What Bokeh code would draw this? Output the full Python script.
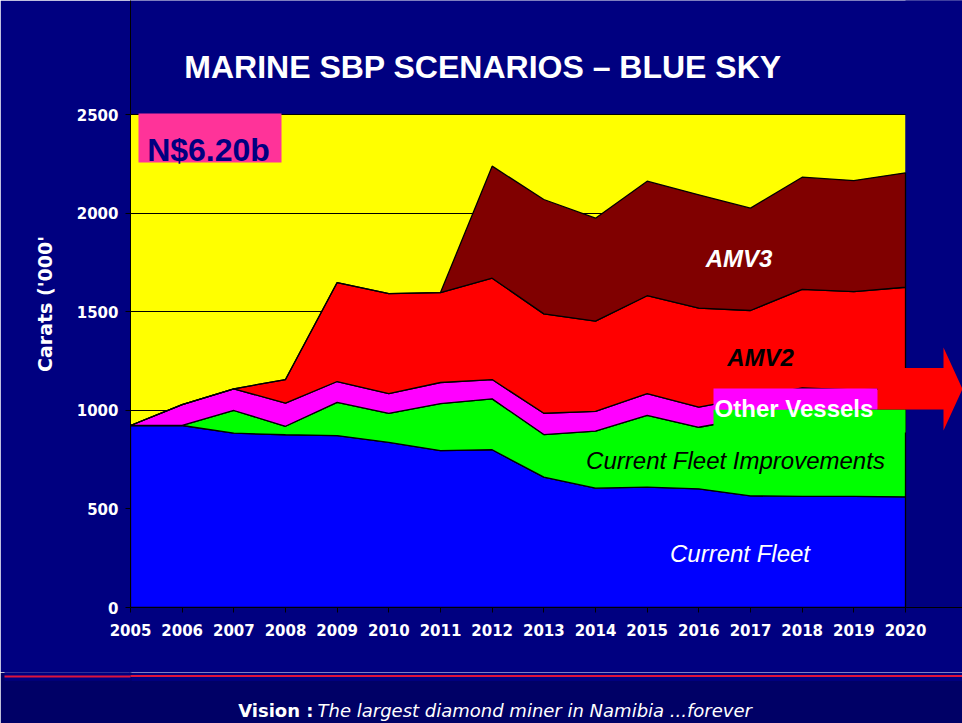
import numpy as np
from bokeh.plotting import figure
from bokeh.layouts import column
from bokeh.models import Range1d, FixedTicker, Label, BoxAnnotation, PolyAnnotation, LinearAxis
from bokeh.embed import file_html
from bokeh.resources import INLINE

# ---------------- data ----------------
YEARS = list(range(2005, 2021))
YEAR_LABELS = [str(y) for y in YEARS]
CURRENT_FLEET = [923, 923, 884, 876, 872, 837, 796, 800, 661, 605, 610, 602, 566, 564, 564, 561]
FLEET_IMPROVEMENTS = [0, 0, 115, 43, 168, 147, 238, 258, 216, 289, 364, 312, 396, 452, 439, 445]
OTHER_VESSELS = [0, 106, 110, 117, 106, 101, 107, 98, 108, 101, 110, 102, 103, 98, 101, 104]
AMV2 = [0, 0, 0, 120, 502, 507, 456, 514, 504, 457, 497, 502, 441, 499, 498, 514]
AMV3 = [0, 0, 0, 0, 0, 0, 0, 568, 580, 522, 581, 575, 519, 569, 563, 580]
SERIES_NAMES = ["Current Fleet", "Current Fleet Improvements", "Other Vessels", "AMV2", "AMV3"]
SERIES_COLORS = ["#0000FF", "#00FF00", "#FF00FF", "#FF0000", "#800000"]
Y_TICKS = [0, 500, 1000, 1500, 2000, 2500]
Y_MAX = 2500
TITLE = "MARINE SBP SCENARIOS \u2013 BLUE SKY"
Y_LABEL = "Carats ('000'"
VALUE_TAG = "N$6.20b"
VISION_HEAD = "Vision :"
VISION_TEXT = "The largest diamond miner in Namibia ...forever"

NAVY = "#000080"
DARK = "#000066"
BLACK = "#000000"
WHITE = "#FFFFFF"
RULE_RED = "#E0143C"

# ---------------- geometry (page pixels) ----------------
W, H = 962, 723
MAIN_H = 672                     # chart figure height, footer below
PLOT_L, PLOT_R, PLOT_T, PLOT_B = 130, 905, 114, 607

px_per_year = (PLOT_R - PLOT_L) / (YEARS[-1] - YEARS[0])
px_per_unit = (PLOT_B - PLOT_T) / Y_MAX
x_end = YEARS[0] + (W - PLOT_L) / px_per_year
y_end = Y_MAX + PLOT_T / px_per_unit

p = figure(width=W, height=MAIN_H, output_backend="svg", toolbar_location=None, title=None,
           x_range=Range1d(YEARS[0], x_end), y_range=Range1d(0, y_end),
           min_border_left=PLOT_L, min_border_right=0, min_border_top=0,
           min_border_bottom=MAIN_H - PLOT_B)
p.border_fill_color = NAVY
p.background_fill_color = NAVY
p.outline_line_color = None

# yellow plot area, beneath the grid
p.add_layout(BoxAnnotation(left=YEARS[0], right=YEARS[-1], bottom=0, top=Y_MAX,
                           fill_color="#FFFF00", fill_alpha=1, line_color=None, level="image"))

p.xgrid.grid_line_color = None
p.ygrid.ticker = FixedTicker(ticks=Y_TICKS)
p.ygrid.grid_line_color = "black"
p.ygrid.grid_line_width = 1

# navy right of the plot area hides the grid-line ends
p.add_layout(BoxAnnotation(left=YEARS[-1], left_units="data",
                           right=3000, right_units="screen",
                           top=3000, top_units="screen",
                           bottom=-50, bottom_units="screen",
                           fill_color=NAVY, fill_alpha=1, line_color=None, level="underlay"))

# stacked areas
series = [CURRENT_FLEET, FLEET_IMPROVEMENTS, OTHER_VESSELS, AMV2, AMV3]
base = np.zeros(len(YEARS))
xs, ys = [], []
for s in series:
    top = base + np.array(s, dtype=float)
    xs.append(YEARS + YEARS[::-1])
    ys.append(list(top) + list(base[::-1]))
    base = top
p.patches(xs, ys, fill_color=SERIES_COLORS, line_color="black", line_width=1.3)

# axes
for ax in (p.xaxis, p.yaxis):
    ax.axis_line_color = "black"
    ax.axis_line_width = 1
    ax.major_tick_line_color = "black"
    ax.major_tick_out = 5
    ax.major_tick_in = 0
    ax.minor_tick_line_color = None
    ax.major_label_text_color = WHITE
    ax.major_label_text_font = "DejaVu Sans"
    ax.major_label_text_font_style = "bold"
    ax.major_label_text_font_size = "15px"

p.xaxis.ticker = FixedTicker(ticks=YEARS)
p.xaxis.bounds = (YEARS[0], x_end)
p.xaxis.major_label_overrides = {y: l for y, l in zip(YEARS, YEAR_LABELS)}
p.xaxis.major_label_standoff = 11
p.yaxis.ticker = FixedTicker(ticks=Y_TICKS)
p.yaxis.bounds = (0, y_end)
p.yaxis.major_label_overrides = {t: str(t) for t in Y_TICKS}
p.yaxis.major_label_standoff = 7
p.yaxis.axis_label = Y_LABEL
p.yaxis.axis_label_text_color = WHITE
p.yaxis.axis_label_text_font = "DejaVu Sans"
p.yaxis.axis_label_text_font_style = "bold"
p.yaxis.axis_label_text_font_size = "19px"
p.yaxis.axis_label_standoff = 18


# page pixels -> frame screen units
def sx(v):
    return v - PLOT_L


def sy(v):
    return PLOT_B - v


def srect(l, r, t, b, color):
    p.add_layout(BoxAnnotation(left=sx(l), right=sx(r), top=sy(t), bottom=sy(b),
                               left_units="screen", right_units="screen",
                               top_units="screen", bottom_units="screen",
                               fill_color=color, fill_alpha=1, line_color=None))


def text(fig, s, x, y, size, color, style="normal", align="center", font="Liberation Sans",
         units="screen"):
    fig.add_layout(Label(x=x, y=y, x_units=units, y_units=units, text=s,
                         text_font=font, text_font_size=size, text_font_style=style,
                         text_color=color, text_align=align, text_baseline="alphabetic"))


# chart decorations
srect(138, 281, 113, 162, "#FF3399")          # value tag
srect(713, 905, 409, 432, "#00FF00")          # text boxes
srect(713, 877, 388, 409, "#FF00FF")
ARROW_X = [877, 943, 943, 962, 943, 943, 877]
ARROW_Y = [367.5, 367.5, 347, 388.5, 430, 409, 409]
p.add_layout(PolyAnnotation(xs=[sx(v) for v in ARROW_X], ys=[sy(v) for v in ARROW_Y],
                            xs_units="screen", ys_units="screen",
                            fill_color="#FF0000", fill_alpha=1, line_color=None))

text(p, TITLE, sx(482.5), sy(66), "32px", WHITE, "bold")
text(p, VALUE_TAG, sx(208), sy(149), "32px", NAVY, "bold")
text(p, SERIES_NAMES[4], sx(738.5), sy(258), "24px", WHITE, "bold italic")
text(p, SERIES_NAMES[3], sx(760), sy(357), "24px", BLACK, "bold italic")
text(p, SERIES_NAMES[2], sx(793.5), sy(408), "24px", WHITE, "bold")
text(p, SERIES_NAMES[1], sx(735), sy(460), "24px", BLACK, "italic")
text(p, SERIES_NAMES[0], sx(739.5), sy(553), "24px", WHITE, "italic")

# ---------------- footer (frame aligned with the chart frame) ----------------
NAVY_STRIP = (MAIN_H, 680.5)
RED_RULE = (674.6, 676.6)
foot = figure(width=W, height=H - MAIN_H, output_backend="svg", toolbar_location=None,
              title=None, x_range=Range1d(PLOT_L, W), y_range=Range1d(H, MAIN_H),
              x_axis_type=None, y_axis_type=None,
              min_border_left=PLOT_L, min_border_right=0, min_border_top=0,
              min_border_bottom=0)
foot.outline_line_color = None
foot.background_fill_color = NAVY
foot.border_fill_color = DARK

# left of the frame: navy strip and red rule drawn as the ticks of a bare axis
strip = LinearAxis(ticker=FixedTicker(ticks=[sum(NAVY_STRIP) / 2],
                                      minor_ticks=[sum(RED_RULE) / 2]),
                   axis_line_color=DARK, axis_line_width=2,
                   major_tick_line_color=NAVY,
                   major_tick_line_width=NAVY_STRIP[1] - NAVY_STRIP[0],
                   major_tick_out=PLOT_L - 4, major_tick_in=0,
                   minor_tick_line_color=RULE_RED,
                   minor_tick_line_width=RED_RULE[1] - RED_RULE[0],
                   minor_tick_out=PLOT_L - 4, minor_tick_in=0,
                   major_label_text_font_size="0px", major_label_standoff=0,
                   major_label_overrides={sum(NAVY_STRIP) / 2: ""})
foot.add_layout(strip, "left")


def frect(l, r, t, b, color):
    foot.add_layout(BoxAnnotation(left=l, right=r, top=t, bottom=b, fill_color=color,
                                  fill_alpha=1, line_color=None))


frect(0, W + 10, NAVY_STRIP[1], H + 10, DARK)
frect(0, W + 10, RED_RULE[0], RED_RULE[1], RULE_RED)
text(foot, VISION_HEAD, 313, 710, "18px", WHITE, "bold", "right", "DejaVu Sans", "data")
text(foot, VISION_TEXT, 317, 710, "18px", WHITE, "italic", "left", "DejaVu Sans", "data")

page = column(p, foot, spacing=0)
open("out.html", "w").write(file_html(page, INLINE))
